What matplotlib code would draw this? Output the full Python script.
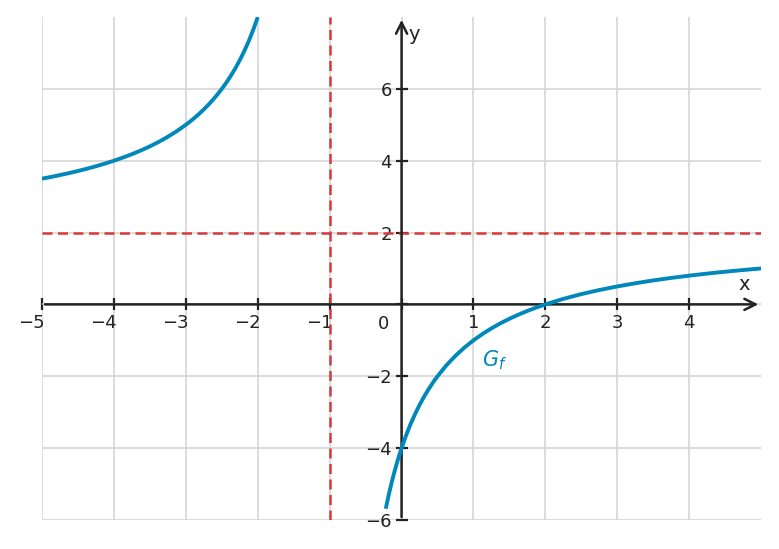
import matplotlib

matplotlib.use("Agg")
import matplotlib.pyplot as plt
from matplotlib.transforms import ScaledTranslation

left_x = [-5, -4.875, -4.75, -4.625, -4.5, -4.375, -4.25, -4.125, -4, -3.875,
          -3.75, -3.625, -3.5, -3.375, -3.25, -3.125, -3, -2.9375, -2.875,
          -2.8125, -2.75, -2.6875, -2.625, -2.5625, -2.5, -2.4375, -2.375,
          -2.3125, -2.25, -2.1875, -2.125, -2.0625, -2.0]
left_y = [3.5, 3.548, 3.6, 3.655, 3.714, 3.778, 3.846, 3.92, 4.0, 4.087,
          4.182, 4.286, 4.4, 4.526, 4.667, 4.824, 5.0, 5.097, 5.2,
          5.31, 5.429, 5.556, 5.692, 5.84, 6.0, 6.174, 6.364,
          6.571, 6.8, 7.053, 7.333, 7.647, 8.0]
right_x = [-0.22, -0.2, -0.18, -0.16, -0.125, -0.1, -0.06, -0.04, 0, 0.0625,
           0.125, 0.1875, 0.25, 0.3125, 0.375, 0.4375, 0.5, 0.625, 0.75, 0.875,
           1, 1.125, 1.25, 1.375, 1.5, 1.625, 1.75, 1.875, 2, 2.25, 2.5, 2.75,
           3, 3.25, 3.5, 3.75, 4, 4.25, 4.5, 4.75, 5]
right_y = [-5.69, -5.5, -5.317, -5.143, -4.857, -4.667, -4.383, -4.25, -4.0,
           -3.647, -3.333, -3.053, -2.8, -2.571, -2.364, -2.174, -2.0, -1.692,
           -1.429, -1.2, -1.0, -0.824, -0.667, -0.526, -0.4, -0.286, -0.182,
           -0.087, 0.0, 0.154, 0.286, 0.4, 0.5, 0.588, 0.667, 0.737, 0.8, 0.857,
           0.909, 0.957, 1.0]

asym_x = -1
asym_y = 2

x_ticks = [-5, -4, -3, -2, -1, 0, 1, 2, 3, 4]
x_labels = ["\u22125", "\u22124", "\u22123", "\u22122", "\u22121", "", "1", "2", "3", "4"]
y_ticks = [-6, -4, -2, 0, 2, 4, 6]
y_labels = ["\u22126", "\u22124", "\u22122", "", "2", "4", "6"]

blue = "#0088bb"
red = "#d63a3a"
dark = "#222222"

fig = plt.figure(figsize=(7.79, 5.49), dpi=100)
ax = fig.add_axes([0.054, 0.053, 0.923, 0.916])
ax.set_xlim(-5, 5)
ax.set_ylim(-6, 8)

ax.grid(True, color="#d6d6d6", linewidth=1.2)
ax.set_axisbelow(True)

ax.axvline(asym_x, color=red, linewidth=1.8, linestyle=(0, (4, 2.2)), zorder=2)
ax.axhline(asym_y, color=red, linewidth=1.8, linestyle=(0, (4, 2.2)), zorder=2)

ax.plot(left_x, left_y, color=blue, linewidth=2.8, zorder=4,
        solid_joinstyle="round", solid_capstyle="butt")
ax.plot(right_x, right_y, color=blue, linewidth=2.8, zorder=4,
        solid_joinstyle="round", solid_capstyle="butt")

# axes with arrows
ax.annotate("", xy=(5, 0), xytext=(-5, 0),
            arrowprops=dict(arrowstyle="->", lw=1.8, color=dark, mutation_scale=20),
            zorder=3, annotation_clip=False)
ax.annotate("", xy=(0, 8), xytext=(0, -6),
            arrowprops=dict(arrowstyle="->", lw=1.8, color=dark, mutation_scale=20),
            zorder=3, annotation_clip=False)

for side in ["top", "right"]:
    ax.spines[side].set_visible(False)
ax.spines["left"].set_position(("data", 0))
ax.spines["bottom"].set_position(("data", 0))
ax.spines["left"].set_color("none")
ax.spines["bottom"].set_color("none")

ax.set_xticks(x_ticks)
ax.set_xticklabels(x_labels)
ax.set_yticks(y_ticks)
ax.set_yticklabels(y_labels)
ax.tick_params(direction="inout", length=8, width=1.6, color=dark,
               labelcolor=dark, labelsize=13, pad=3)
# negative x labels sit left of their tick
nudge = ScaledTranslation(3 / 100, 0, fig.dpi_scale_trans)
for lbl in ax.get_xticklabels():
    if lbl.get_text().startswith("\u2212"):
        lbl.set_horizontalalignment("right")
        lbl.set_transform(lbl.get_transform() + nudge)

ax.text(-0.25, -0.3, "0", fontsize=13, color=dark, ha="center", va="top")
ax.text(4.76, 0.28, "x", fontsize=14, color=dark, ha="center", va="bottom")
ax.text(0.1, 7.5, "y", fontsize=14, color=dark, ha="left", va="center")
ax.text(1.12, -1.55, "$G_f$", fontsize=15, color=blue, ha="left", va="center")

fig.savefig("out.png", dpi=100)
plt.close(fig)
